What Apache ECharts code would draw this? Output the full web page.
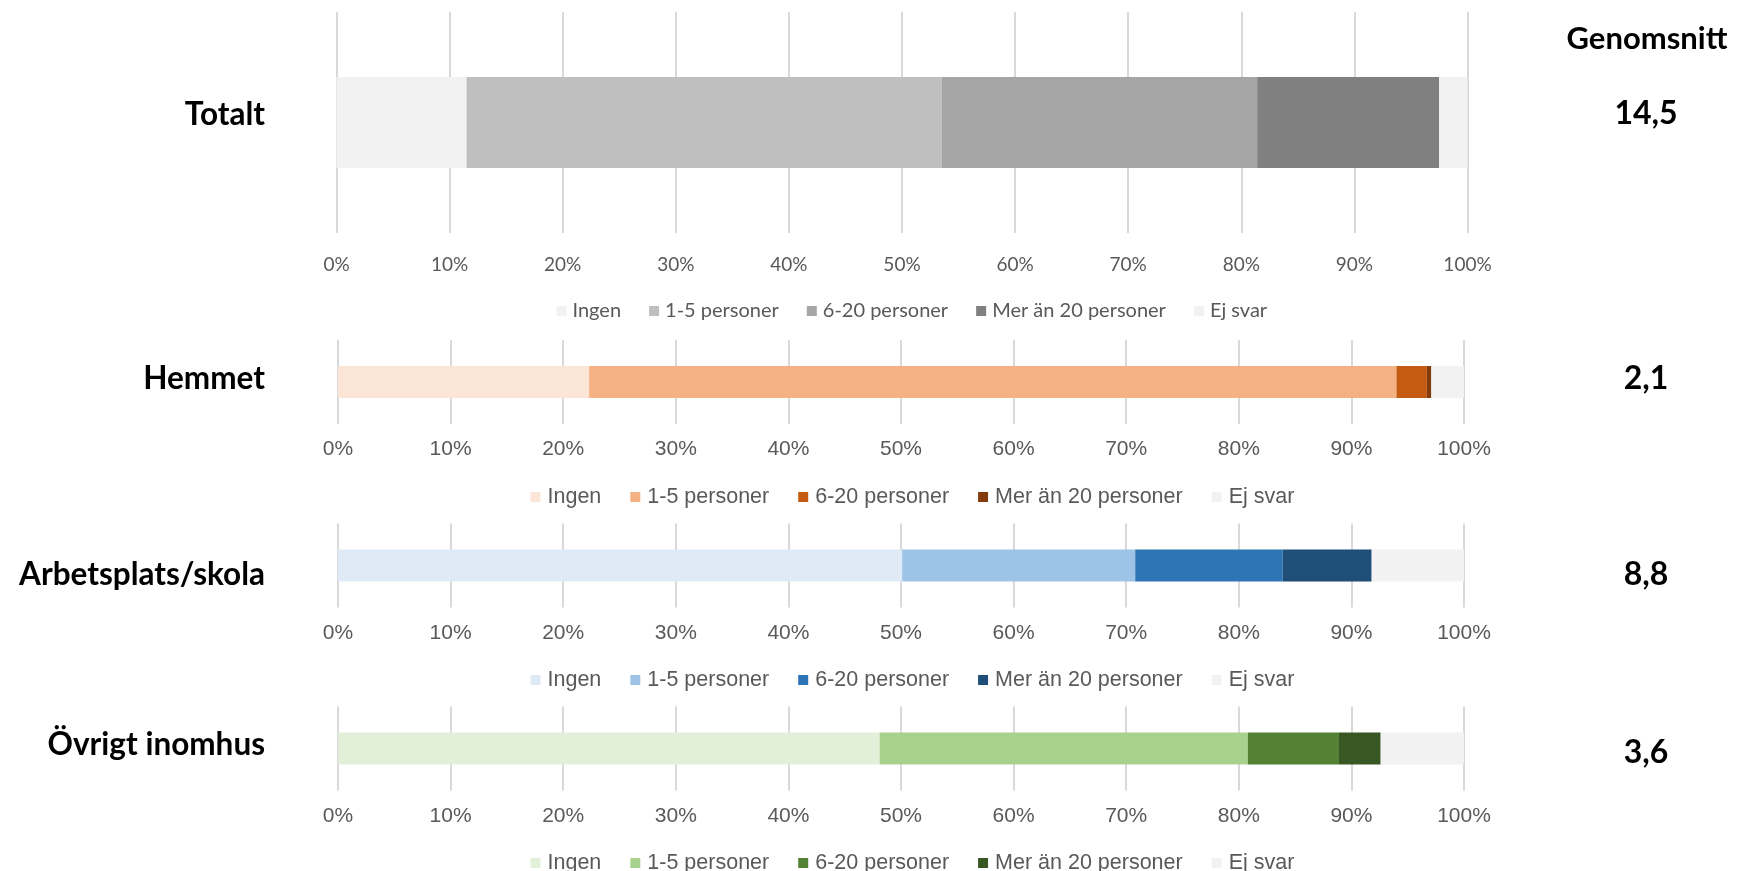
<!DOCTYPE html>
<html>
<head>
<meta charset="utf-8">
<script src="https://cdn.jsdelivr.net/npm/echarts@6/dist/echarts.min.js"></script>
<style>
html,body{margin:0;padding:0;background:#fff;}
#chart{width:1738px;height:871px;}
</style>
</head>
<body>
<div id="chart"></div>
<script>
// ---- data ----
const categories = ['Totalt', 'Hemmet', 'Arbetsplats/skola', 'Övrigt inomhus'];
const seriesNames = ['Ingen', '1-5 personer', '6-20 personer', 'Mer än 20 personer', 'Ej svar'];
const ingen  = [11.5, 22.3, 50.1, 48.1];
const p1_5   = [42.0, 71.7, 20.7, 32.7];
const p6_20  = [27.9,  2.7, 13.1,  8.1];
const mer20  = [16.1,  0.4,  7.9,  3.7];
const ejSvar = [ 2.5,  2.9,  8.2,  7.4];
const averages = ['14,5', '2,1', '8,8', '3,6'];
const averageHeader = 'Genomsnitt';
const tickLabels = ['0%','10%','20%','30%','40%','50%','60%','70%','80%','90%','100%'];

// ---- styles / layout ----
const palettes = [
  ['#F2F2F2', '#BFBFBF', '#A6A6A6', '#808080', '#F2F2F2'],
  ['#FBE5D6', '#F4B183', '#C55A11', '#843C0C', '#F2F2F2'],
  ['#DEEBF7', '#9DC3E6', '#2E75B6', '#1F4E79', '#F2F2F2'],
  ['#E2F0D9', '#A9D18E', '#548235', '#385723', '#F2F2F2']
];
const layouts = [
  {left: 336.5, right: 1738 - 1467.5, top: 12, height: 221, barW: 91, labelMargin: 22, legendLeft: 551.5, legendTop: 296, font: 'Lato', fs: 19, legFs: 20, icon: 10, gap: 28, txtPad: 1, labelY: 115, avgY: 114},
  {left: 338, right: 1738 - 1464, top: 340, height: 84, barW: 32, labelMargin: 15, legendLeft: 525.5, legendTop: 481, font: 'Liberation Sans', fs: 21, legFs: 21.5, icon: 10, gap: 29, txtPad: 2, labelY: 379, avgY: 379},
  {left: 338, right: 1738 - 1464, top: 523.5, height: 84, barW: 32, labelMargin: 15, legendLeft: 525.5, legendTop: 664, font: 'Liberation Sans', fs: 21, legFs: 21.5, icon: 10, gap: 29, txtPad: 2, labelY: 575, avgY: 575},
  {left: 338, right: 1738 - 1464, top: 706.5, height: 84, barW: 32, labelMargin: 15, legendLeft: 525.5, legendTop: 847, font: 'Liberation Sans', fs: 21, legFs: 21.5, icon: 10, gap: 29, txtPad: 2, labelY: 745, avgY: 753}
];

const valueArrays = [ingen, p1_5, p6_20, mer20, ejSvar];
const grids = [], xAxes = [], yAxes = [], series = [], legends = [], graphics = [];

layouts.forEach((L, i) => {
  grids.push({left: L.left, right: L.right, top: L.top, height: L.height, containLabel: false});
  xAxes.push({
    type: 'value', gridIndex: i, min: 0, max: 100, interval: 10,
    axisLine: {show: false}, axisTick: {show: false},
    splitLine: {show: true, lineStyle: {color: '#D9D9D9', width: 2}},
    axisLabel: {
      margin: L.labelMargin, color: '#595959', fontFamily: L.font, fontSize: L.fs,
      formatter: v => tickLabels[Math.round(v / 10)]
    }
  });
  yAxes.push({
    type: 'category', gridIndex: i, data: [categories[i]],
    axisLine: {show: false}, axisTick: {show: false}, axisLabel: {show: false}, splitLine: {show: false}
  });
  seriesNames.forEach((n, k) => {
    series.push({
      name: n + '#' + i, type: 'bar', stack: 'total' + i,
      xAxisIndex: i, yAxisIndex: i, barWidth: L.barW,
      itemStyle: {color: palettes[i][k]},
      emphasis: {disabled: true},
      data: [valueArrays[k][i]]
    });
  });
  legends.push({
    data: seriesNames.map(n => n + '#' + i),
    left: L.legendLeft, top: L.legendTop, orient: 'horizontal',
    icon: 'rect', itemWidth: L.icon, itemHeight: L.icon, itemGap: L.gap,
    selectedMode: false,
    formatter: name => name.split('#')[0],
    textStyle: {color: '#595959', fontFamily: L.font, fontSize: L.legFs, padding: [0, 0, 0, L.txtPad]}
  });
  graphics.push({
    type: 'text', x: 265, y: L.labelY,
    style: {text: categories[i], font: 'bold 31.5px Lato', fill: '#000', textAlign: 'right', textVerticalAlign: 'middle'}
  });
  graphics.push({
    type: 'text', x: 1646, y: L.avgY,
    style: {text: averages[i], font: 'bold 32px Lato', fill: '#000', textAlign: 'center', textVerticalAlign: 'middle'}
  });
});
graphics.push({
  type: 'text', x: 1647, y: 39,
  style: {text: averageHeader, font: 'bold 31px Lato', fill: '#000', textAlign: 'center', textVerticalAlign: 'middle'}
});

const chart = echarts.init(document.getElementById('chart'), null, {renderer: 'canvas'});
chart.setOption({
  animation: false,
  backgroundColor: '#fff',
  grid: grids, xAxis: xAxes, yAxis: yAxes, series: series, legend: legends,
  graphic: graphics
});
</script>
</body>
</html>
